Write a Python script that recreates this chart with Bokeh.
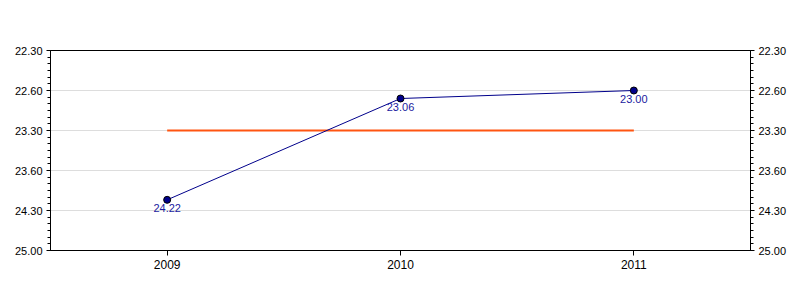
from bokeh.plotting import figure
from bokeh.models import Range1d, FixedTicker, LinearAxis, ColumnDataSource
from bokeh.core.properties import value
from bokeh.embed import file_html
from bokeh.resources import INLINE

years = [2009, 2010, 2011]
times = ["24.22", "23.06", "23.00"]          # min.sec
target_time = "23.30"
tick_labels = ["22.30", "22.60", "23.30", "23.60", "24.30", "25.00"]
tick_seconds = [1350, 1380, 1410, 1440, 1470, 1500]


def to_sec(t):
    m, s = t.split(".")
    return int(m) * 60 + int(s)


secs = [to_sec(t) for t in times]
target = to_sec(target_time)

p = figure(width=800, height=300, output_backend="svg", toolbar_location=None,
           x_range=Range1d(years[0] - 0.5, years[-1] + 0.5),
           y_range=Range1d(tick_seconds[-1], tick_seconds[0]),
           min_border_left=50, min_border_right=50, min_border_top=50, min_border_bottom=50)
p.outline_line_color = "black"
p.outline_line_width = 1
p.background_fill_color = "white"
p.border_fill_color = "white"

minor = list(range(tick_seconds[0], tick_seconds[-1] + 1, 5))
yticker = FixedTicker(ticks=tick_seconds, minor_ticks=minor)
overrides = {s: l for s, l in zip(tick_seconds, tick_labels)}

for ax in p.yaxis:
    ax.ticker = yticker
    ax.major_label_overrides = overrides
right = LinearAxis(ticker=yticker, major_label_overrides=overrides)
p.add_layout(right, "right")

for ax in p.yaxis:
    ax.major_tick_out = 4
    ax.major_tick_in = 0
    ax.minor_tick_out = 3
    ax.minor_tick_in = 0
    ax.major_label_standoff = 4
    ax.major_label_text_font = "Liberation Sans"
    ax.major_label_text_font_size = "11px"
    ax.major_label_text_color = "black"
    ax.axis_line_color = "black"

p.xaxis.ticker = FixedTicker(ticks=years, minor_ticks=[])
p.xaxis.major_label_overrides = {y: str(y) for y in years}
p.xaxis.major_tick_out = 5
p.xaxis.major_tick_in = 0
p.xaxis.minor_tick_line_color = None
p.xaxis.major_label_standoff = 4
p.xaxis.major_label_text_font = "Liberation Sans"
p.xaxis.major_label_text_font_size = "12px"
p.xaxis.major_label_text_color = "black"
p.xaxis.axis_line_color = "black"

p.xgrid.grid_line_color = None
p.ygrid.ticker = yticker
p.ygrid.grid_line_color = "#dddddd"

src = ColumnDataSource(dict(x=years, y=secs, label=times))
p.line([years[0], years[-1]], [target, target], line_color="#FF5511", line_width=2)
p.line("x", "y", source=src, line_color="#00008B", line_width=1)
p.scatter("x", "y", source=src, size=7, fill_color="#00008B", line_color="black", line_width=1)
p.text("x", "y", text="label", source=src, text_align="center", text_baseline="top",
       y_offset=4, text_font_size="11px", text_color="#1a1aa0",
       text_font=value("Liberation Sans"))

open("out.html", "w").write(file_html(p, INLINE))
